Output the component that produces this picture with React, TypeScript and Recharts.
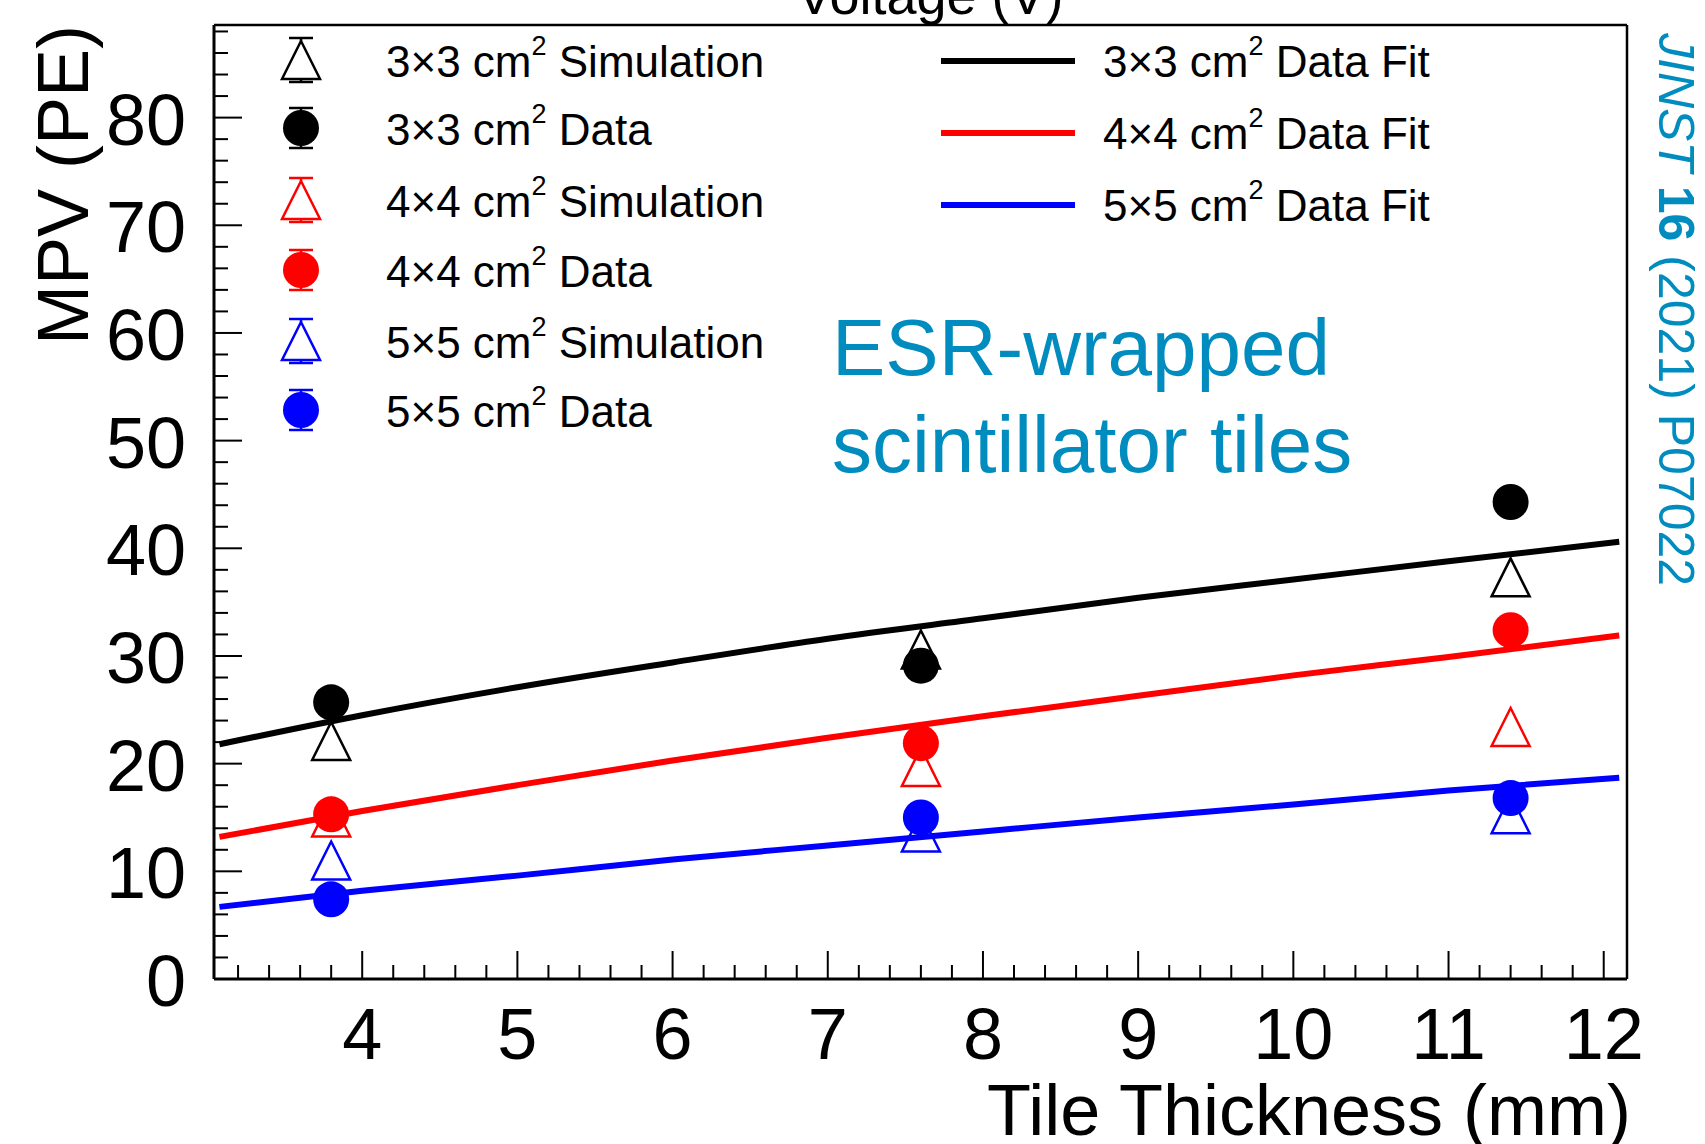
import React from 'react';
import { ComposedChart, Line, Scatter, XAxis, YAxis, ReferenceLine } from 'recharts';

// measured points: tile thickness (mm) vs MPV (PE)
const THICKNESS = [3.8, 7.6, 11.4];
const SIM_3X3 = [22.1, 30.6, 37.3];
const DATA_3X3 = [25.7, 29.1, 44.3];
const SIM_4X4 = [15.0, 19.7, 23.4];
const DATA_4X4 = [15.3, 21.9, 32.4];
const SIM_5X5 = [11.0, 13.6, 15.3];
const DATA_5X5 = [7.4, 15.0, 16.8];

// fit curves
const FIT_X = [3.08, 4, 5, 6, 7, 8, 9, 10, 11, 12.1];
const FIT_3X3 = [21.8, 24.5, 27.1, 29.4, 31.6, 33.5, 35.4, 37.1, 38.8, 40.6];
const FIT_4X4 = [13.2, 15.6, 18.0, 20.3, 22.4, 24.4, 26.3, 28.2, 29.9, 31.9];
const FIT_5X5 = [6.7, 8.2, 9.6, 11.1, 12.4, 13.7, 15.0, 16.2, 17.5, 18.7];

const X_LABELS = [4, 5, 6, 7, 8, 9, 10, 11, 12];
const Y_LABELS = [0, 10, 20, 30, 40, 50, 60, 70, 80];
const X_DOMAIN: [number, number] = [3.045, 12.15];
const Y_DOMAIN: [number, number] = [0, 88.6];

// minor ticks every 0.2 mm / 2 PE (ROOT style)
const X_TICKS = Array.from({ length: 45 }, (_, i) => Math.round((3.2 + i * 0.2) * 10) / 10);
const Y_TICKS = Array.from({ length: 45 }, (_, i) => i * 2);

const FONT = '"Liberation Sans", Arial, Helvetica, sans-serif';
const TEAL = '#008cbe';

const pts = (xs: number[], ys: number[]) => xs.map((x, i) => ({ x, y: ys[i] }));

const XTick = (props: any) => {
  const { x, y, payload } = props;
  const v = payload.value;
  const major = X_LABELS.includes(v);
  return (
    <g>
      <line x1={x} y1={y} x2={x} y2={y - (major ? 28 : 14)} stroke="#000" strokeWidth={2} />
      {major && (
        <text x={x} y={y + 80} textAnchor="middle" fontSize={72} fontFamily={FONT} fill="#000">
          {v}
        </text>
      )}
    </g>
  );
};

const YTick = (props: any) => {
  const { x, y, payload } = props;
  const v = payload.value;
  const major = Y_LABELS.includes(v);
  return (
    <g>
      <line x1={x} y1={y} x2={x + (major ? 28 : 14)} y2={y} stroke="#000" strokeWidth={2} />
      {major && (
        <text x={x - 28} y={y + 27} textAnchor="end" fontSize={72} fontFamily={FONT} fill="#000">
          {v}
        </text>
      )}
    </g>
  );
};

const Tri = ({ cx, cy, color }: { cx: number; cy: number; color: string }) => (
  <polygon
    points={`${cx},${cy - 19} ${cx - 19},${cy + 19} ${cx + 19},${cy + 19}`}
    fill="none"
    stroke={color}
    strokeWidth={2.5}
  />
);

const Dot = ({ cx, cy, color }: { cx: number; cy: number; color: string }) => (
  <circle cx={cx} cy={cy} r={18} fill={color} />
);

// error bar stubs drawn outside the marker only, as ROOT does
const ErrBar = ({ cx, cy, h, inner, color }: { cx: number; cy: number; h: number; inner: number; color: string }) => (
  <g stroke={color} strokeWidth={2.5}>
    <line x1={cx} y1={cy - h} x2={cx} y2={cy - inner} />
    <line x1={cx} y1={cy + inner} x2={cx} y2={cy + h} />
    <line x1={cx - 12} y1={cy - h} x2={cx + 12} y2={cy - h} />
    <line x1={cx - 12} y1={cy + h} x2={cx + 12} y2={cy + h} />
  </g>
);

const Cm2 = ({ x, y, pre, post }: { x: number; y: number; pre: string; post: string }) => (
  <text x={x} y={y} fontSize={44} fontFamily={FONT} fill="#000">
    <tspan>{pre}</tspan>
    <tspan fontSize={27} dy={-22}>2</tspan>
    <tspan dy={22}>{post}</tspan>
  </text>
);

const LEFT_ROWS = [
  { y: 60, kind: 'tri', color: '#000', pre: '3×3 cm', post: ' Simulation' },
  { y: 128, kind: 'dot', color: '#000', pre: '3×3 cm', post: ' Data' },
  { y: 200, kind: 'tri', color: '#ff0000', pre: '4×4 cm', post: ' Simulation' },
  { y: 270, kind: 'dot', color: '#ff0000', pre: '4×4 cm', post: ' Data' },
  { y: 341, kind: 'tri', color: '#0000ff', pre: '5×5 cm', post: ' Simulation' },
  { y: 410, kind: 'dot', color: '#0000ff', pre: '5×5 cm', post: ' Data' },
];

const RIGHT_ROWS = [
  { y: 61, color: '#000', pre: '3×3 cm' },
  { y: 133, color: '#ff0000', pre: '4×4 cm' },
  { y: 205, color: '#0000ff', pre: '5×5 cm' },
];

export default function App() {
  return (
    <div style={{ position: 'absolute', left: 0, top: 0, width: 1705, height: 1144, background: '#fff', overflow: 'hidden' }}>
      <ComposedChart width={1705} height={1144} margin={{ top: 25, right: 78, bottom: 0, left: 0 }}>
        <XAxis
          type="number"
          dataKey="x"
          domain={X_DOMAIN}
          ticks={X_TICKS}
          interval={0}
          allowDataOverflow
          height={165}
          tickSize={0}
          tickMargin={0}
          tickLine={false}
          tick={<XTick />}
          axisLine={{ stroke: '#000', strokeWidth: 3 }}
        />
        <YAxis
          type="number"
          domain={Y_DOMAIN}
          ticks={Y_TICKS}
          interval={0}
          allowDataOverflow
          width={214}
          tickSize={0}
          tickMargin={0}
          tickLine={false}
          tick={<YTick />}
          axisLine={{ stroke: '#000', strokeWidth: 3 }}
        />
        <ReferenceLine y={Y_DOMAIN[1]} stroke="#000" strokeWidth={2.5} />
        <ReferenceLine x={X_DOMAIN[1]} stroke="#000" strokeWidth={2.5} />

        <Line data={pts(FIT_X, FIT_3X3)} dataKey="y" type="monotone" stroke="#000" strokeWidth={6} dot={false} isAnimationActive={false} />
        <Line data={pts(FIT_X, FIT_4X4)} dataKey="y" type="monotone" stroke="#ff0000" strokeWidth={6} dot={false} isAnimationActive={false} />
        <Line data={pts(FIT_X, FIT_5X5)} dataKey="y" type="monotone" stroke="#0000ff" strokeWidth={6} dot={false} isAnimationActive={false} />

        <Scatter data={pts(THICKNESS, SIM_3X3)} dataKey="y" isAnimationActive={false} shape={(p: any) => <Tri cx={p.cx} cy={p.cy} color="#000" />} />
        <Scatter data={pts(THICKNESS, SIM_4X4)} dataKey="y" isAnimationActive={false} shape={(p: any) => <Tri cx={p.cx} cy={p.cy} color="#ff0000" />} />
        <Scatter data={pts(THICKNESS, SIM_5X5)} dataKey="y" isAnimationActive={false} shape={(p: any) => <Tri cx={p.cx} cy={p.cy} color="#0000ff" />} />
        <Scatter data={pts(THICKNESS, DATA_3X3)} dataKey="y" isAnimationActive={false} shape={(p: any) => <Dot cx={p.cx} cy={p.cy} color="#000" />} />
        <Scatter data={pts(THICKNESS, DATA_4X4)} dataKey="y" isAnimationActive={false} shape={(p: any) => <Dot cx={p.cx} cy={p.cy} color="#ff0000" />} />
        <Scatter data={pts(THICKNESS, DATA_5X5)} dataKey="y" isAnimationActive={false} shape={(p: any) => <Dot cx={p.cx} cy={p.cy} color="#0000ff" />} />
      </ComposedChart>

      {/* titles, legend and annotations */}
      <svg width={1705} height={1144} style={{ position: 'absolute', left: 0, top: 0, pointerEvents: 'none' }}>
        <text x={930} y={14} textAnchor="middle" fontSize={54} fontFamily={FONT} fill="#000">Voltage (V)</text>
        <text x={1631} y={1135} textAnchor="end" fontSize={72} fontFamily={FONT} fill="#000">Tile Thickness (mm)</text>
        <text x={88} y={25} transform="rotate(-90, 88, 25)" textAnchor="end" fontSize={72} fontFamily={FONT} fill="#000">MPV (PE)</text>

        {LEFT_ROWS.map((r) => (
          <g key={`l-${r.y}`}>
            {r.kind === 'tri' ? (
              <>
                <ErrBar cx={301} cy={r.y} h={22} inner={19} color={r.color} />
                <Tri cx={301} cy={r.y} color={r.color} />
              </>
            ) : (
              <>
                <ErrBar cx={301} cy={r.y} h={20} inner={17} color={r.color} />
                <Dot cx={301} cy={r.y} color={r.color} />
              </>
            )}
            <Cm2 x={386} y={r.y + 17} pre={r.pre} post={r.post} />
          </g>
        ))}

        {RIGHT_ROWS.map((r) => (
          <g key={`r-${r.y}`}>
            <line x1={941} y1={r.y} x2={1075} y2={r.y} stroke={r.color} strokeWidth={6} />
            <Cm2 x={1103} y={r.y + 16} pre={r.pre} post=" Data Fit" />
          </g>
        ))}

        <text x={832} y={375} fontSize={80} fontFamily={FONT} fill={TEAL}>ESR-wrapped</text>
        <text x={832} y={472} fontSize={80} fontFamily={FONT} fill={TEAL}>scintillator tiles</text>

        <text x={1659} y={33} transform="rotate(90, 1659, 33)" fontSize={50} fontFamily={FONT} fill={TEAL}>
          <tspan fontStyle="italic">JINST </tspan>
          <tspan fontWeight="bold">16</tspan>
          <tspan> (2021) P07022</tspan>
        </text>
      </svg>
    </div>
  );
}
